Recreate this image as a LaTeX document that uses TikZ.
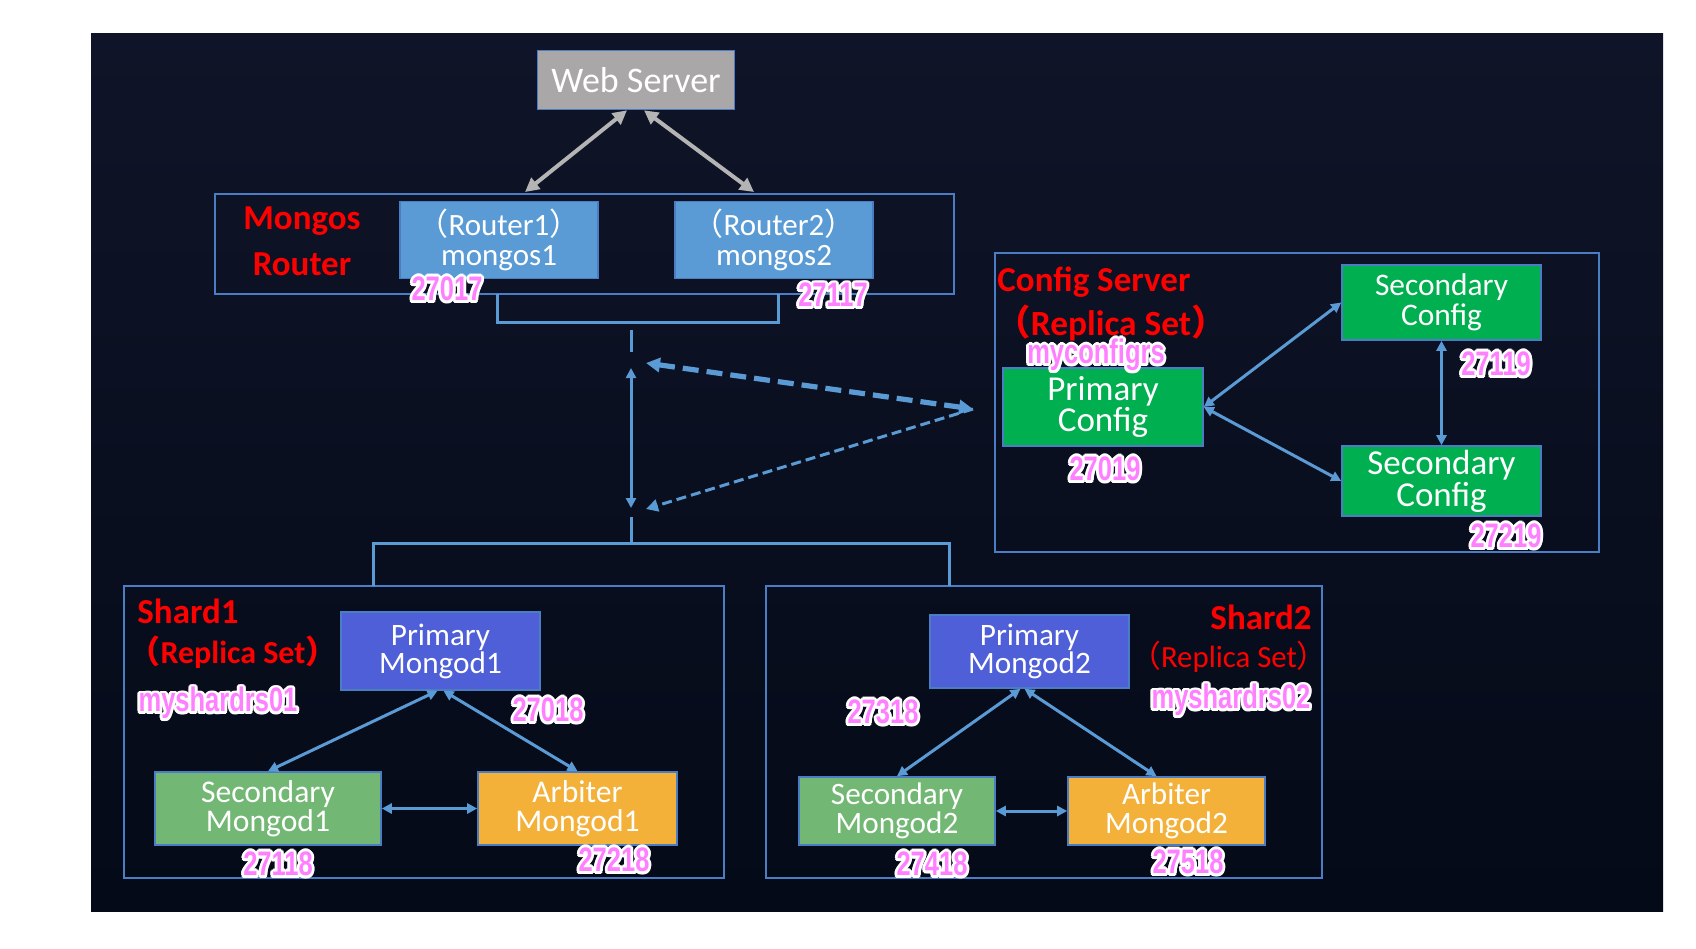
\documentclass[tikz,border=0pt]{standalone}
\usepackage{fontspec}
\setmainfont{Carlito}
\newfontfamily\cjk{Noto Sans CJK SC}
\newfontfamily\pinkf{Liberation Sans}[FakeStretch=0.75]
\usetikzlibrary{arrows.meta}
\definecolor{bgtop}{HTML}{0F1428}
\definecolor{bgbot}{HTML}{050A18}
\definecolor{linec}{HTML}{5B9BD5}
\definecolor{outc}{HTML}{4A7DC4}
\definecolor{routerc}{HTML}{5B9BD5}
\definecolor{wsc}{HTML}{A9A7A8}
\definecolor{cfgc}{HTML}{00B050}
\definecolor{primc}{HTML}{4F5FD8}
\definecolor{secc}{HTML}{72B874}
\definecolor{arbc}{HTML}{F3B13A}
\definecolor{redc}{HTML}{FF0000}
\definecolor{pinkc}{HTML}{FF80FF}
\definecolor{grayc}{HTML}{B4B4B4}
\newcommand\fs[2]{\fontsize{#1pt}{#2pt}\selectfont}
\newcommand\lp{{\cjk （}}
\newcommand\rp{{\cjk ）}}
\newcommand\plab[3]{%
  \foreach \a in {0,30,...,330}{\node[plabel,text=white] at ([shift={(\a:1.4pt)}]#2) {#3};}
  \foreach \a in {15,45,...,345}{\node[plabel,text=white] at ([shift={(\a:0.8pt)}]#2) {#3};}
  \node[plabel,text=pinkc] (#1) at (#2) {#3};
}
\begin{document}
\begin{tikzpicture}[x=0.5pt,y=-0.5pt,
  box/.style={draw=outc, line width=0.8pt, inner sep=0pt, align=center, text=white},
  outline/.style={draw=outc, line width=1pt, inner sep=0pt, fill=none},
  conn/.style={draw=linec, line width=1.5pt},
  dbl/.style={conn, {Triangle[length=5pt,width=5pt]}-{Triangle[length=5pt,width=5pt]}},
  grayarrow/.style={draw=grayc, line width=2pt, {Triangle[length=7pt,width=7pt]}-{Triangle[length=7pt,width=7pt]}},
  redtxt/.style={text=redc, inner sep=0pt, font=\bfseries\fs{17.5}{21}},
  plabel/.style={inner sep=0pt, font=\pinkf\bfseries\fs{17}{18}},
]
\useasboundingbox (0,0) rectangle (1696,948);
\fill[white] (0,0) rectangle (1696,948);
\shade[top color=bgtop, bottom color=bgbot] (91,33) rectangle (1663,911);

% outline boxes
\node[outline, minimum width=369.5pt, minimum height=50pt] (mongosbox) at (584.5,244) {};
\node[outline, minimum width=302pt, minimum height=149.5pt] (cfgbox) at (1297,402.5) {};
\node[outline, minimum width=300pt, minimum height=146pt] (shard1box) at (424,732) {};
\node[outline, minimum width=278pt, minimum height=146pt] (shard2box) at (1044,732) {};

% web server and routers
\node[box, fill=wsc, minimum width=98.5pt, minimum height=29.5pt, font=\fs{18}{20}] (ws) at (636,80) {Web Server};
\node[box, fill=routerc, minimum width=99pt, minimum height=38.5pt, font=\fs{15.5}{15}] (r1) at (499,240) {\lp Router1\rp\\mongos1};
\node[box, fill=routerc, minimum width=99pt, minimum height=38.5pt, font=\fs{15.5}{15}] (r2) at (774,240) {\lp Router2\rp\\mongos2};
\node[redtxt] (tmongos) at (302,221) {Mongos};
\node[redtxt] (trouter) at (302,264) {Router};

% config server
\node[box, fill=cfgc, minimum width=100pt, minimum height=39pt, font=\fs{17.5}{14}] (pcfg) at (1103,407) {Primary\\Config};
\node[box, fill=cfgc, minimum width=99.5pt, minimum height=37.5pt, font=\fs{15.7}{15}] (scfg1) at (1441.5,302.5) {Secondary\\Config};
\node[box, fill=cfgc, minimum width=99.5pt, minimum height=35pt, font=\fs{17.5}{14.5}] (scfg2) at (1441.5,481) {Secondary\\Config};
\node[redtxt, anchor=west] (tcfg) at (997,282) {Config Server};
\node[redtxt, font=\bfseries\fs{17.7}{21}] (tcfgrs) at (1111,323) {\lp Replica Set\rp};

% shard1
\node[box, fill=primc, minimum width=99.5pt, minimum height=39pt, font=\fs{15.6}{14}] (pm1) at (440.5,651) {Primary\\Mongod1};
\node[box, fill=secc, minimum width=113pt, minimum height=36.5pt, font=\fs{15.8}{14.6}] (sm1) at (268,808.5) {Secondary\\Mongod1};
\node[box, fill=arbc, minimum width=99.5pt, minimum height=36.5pt, font=\fs{15.8}{14.6}] (am1) at (577.5,808.5) {Arbiter\\Mongod1};
\node[redtxt, anchor=west] (tsh1) at (137,611) {Shard1};
\node[redtxt, font=\bfseries\fs{16}{20}] (tsh1rs) at (233,652) {\lp Replica Set\rp};

% shard2
\node[box, fill=primc, minimum width=99.5pt, minimum height=36.5pt, font=\fs{15.6}{14}] (pm2) at (1029.5,651.5) {Primary\\Mongod2};
\node[box, fill=secc, minimum width=98pt, minimum height=34pt, font=\fs{15.6}{14.6}] (sm2) at (897,811) {Secondary\\Mongod2};
\node[box, fill=arbc, minimum width=98.5pt, minimum height=34pt, font=\fs{15.6}{14.6}] (am2) at (1166.5,811) {Arbiter\\Mongod2};
\node[redtxt, anchor=east] (tsh2) at (1312,617) {Shard2};
\node[redtxt, font=\fs{15.4}{20}] (tsh2rs) at (1229,657) {\lp Replica Set\rp};

% coordinates for free connector ends
\coordinate (g1) at (525,192);
\coordinate (g2) at (754,192);
\coordinate (bl) at (497,294);
\coordinate (br) at (778,294);
\coordinate (bmid) at (631,322);
\coordinate (s1a) at (631,330);
\coordinate (s1b) at (631,352);
\coordinate (va) at (631,368);
\coordinate (vb) at (631,508);
\coordinate (s2a) at (631,517);
\coordinate (hmid) at (631,543);
\coordinate (d1) at (373,586);
\coordinate (d2) at (949,586);
\coordinate (dA) at (646,363);
\coordinate (dT) at (973,409);
\coordinate (dB) at (646,509);

% connectors
\draw[grayarrow] ([xshift=-4.5pt]ws.south) -- (g1);
\draw[grayarrow] ([xshift=4pt]ws.south) -- (g2);
\draw[conn] (bl) |- (bmid) -| (br);
\draw[conn] (s1a) -- (s1b);
\draw[dbl] (va) -- (vb);
\draw[conn] (s2a) -- (hmid);
\draw[conn] (d1) |- (hmid) -| (d2);
\draw[draw=linec, line width=2.6pt, dash pattern=on 8pt off 4pt, {Triangle[length=7pt,width=7pt]}-{Triangle[length=7pt,width=7pt]}] (dA) -- (dT);
\draw[draw=linec, line width=1.5pt, dash pattern=on 5pt off 2.5pt, -{Triangle[length=6pt,width=6pt]}] (dT) -- (dB);

\draw[dbl] (pcfg.east) -- (scfg1.west);
\draw[dbl] (pcfg.east) -- (scfg2.west);
\draw[dbl] (scfg1.south) -- (scfg2.north);

\draw[dbl] ([xshift=-1.5pt]pm1.south) -- (sm1.north);
\draw[dbl] ([xshift=1.5pt]pm1.south) -- (am1.north);
\draw[dbl] (sm1.east) -- (am1.west);

\draw[dbl] ([xshift=-4.5pt]pm2.south) -- (sm2.north);
\draw[dbl] ([xshift=-2.5pt]pm2.south) -- ([xshift=-5pt]am2.north);
\draw[dbl] (sm2.east) -- (am2.west);

% pink labels
\plab{p27017}{447,289}{27017}
\plab{p27117}{833,295}{27117}
\plab{pcfgrs}{1096,355}{myconfigrs}
\plab{p27019}{1105,469}{27019}
\plab{p27119}{1496,364}{27119}
\plab{p27219}{1506,536}{27219}
\plab{psh1}{218,703}{myshardrs01}
\plab{p27018}{548,710}{27018}
\plab{p27118}{278,864}{27118}
\plab{p27218}{614,860}{27218}
\plab{psh2}{1231,700}{myshardrs02}
\plab{p27318}{883,712}{27318}
\plab{p27418}{932,864}{27418}
\plab{p27518}{1188,862}{27518}
\end{tikzpicture}
\end{document}
